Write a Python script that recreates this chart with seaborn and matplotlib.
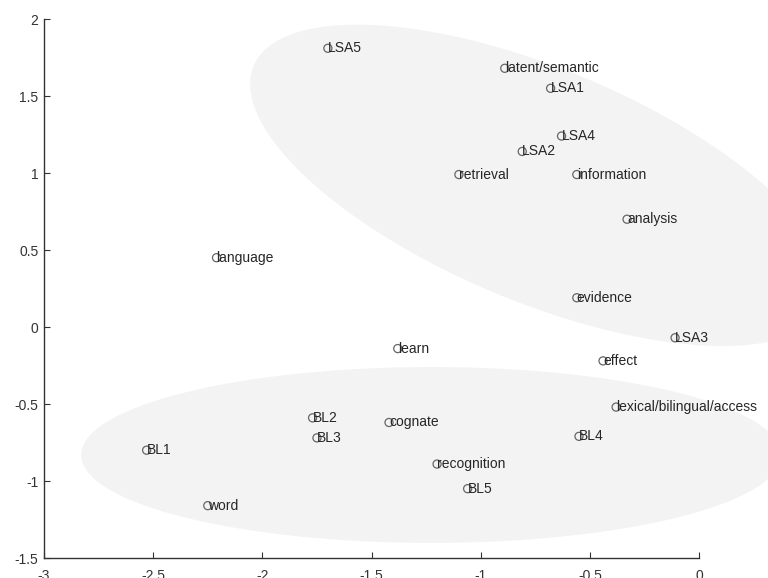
import numpy as np
import pandas as pd
import seaborn as sns
import matplotlib.pyplot as plt

# term / document coordinates
labels = ['LSA5', 'latent/semantic', 'LSA1', 'LSA4', 'LSA2', 'retrieval', 'information',
          'analysis', 'language', 'evidence', 'LSA3', 'learn', 'effect',
          'lexical/bilingual/access', 'BL2', 'cognate', 'BL3', 'BL4', 'BL1',
          'recognition', 'BL5', 'word']
x_vals = [-1.70, -0.89, -0.68, -0.63, -0.81, -1.10, -0.56,
          -0.33, -2.21, -0.56, -0.11, -1.38, -0.44,
          -0.38, -1.77, -1.42, -1.75, -0.55, -2.53,
          -1.20, -1.06, -2.25]
y_vals = [1.81, 1.68, 1.55, 1.24, 1.14, 0.99, 0.99,
          0.70, 0.45, 0.19, -0.07, -0.14, -0.22,
          -0.52, -0.59, -0.62, -0.72, -0.71, -0.80,
          -0.89, -1.05, -1.16]

df = pd.DataFrame({'x': x_vals, 'y': y_vals, 'label': labels})

sns.set_style('ticks')
plt.rcParams['font.family'] = ['Liberation Sans', 'DejaVu Sans']

fig = plt.figure(figsize=(7.68, 5.78), dpi=100)
ax = fig.add_axes([0.0573, 0.0346, 0.853, 0.9325])
ax.set_xlim(-3, 0)
ax.set_ylim(-1.5, 2)


def shade(cx, cy, w, h, k):
    # sheared ellipse in data units: half-width w, half-height h, tilt k
    t = np.linspace(0, 2 * np.pi, 300)
    ex = cx + w * np.cos(t)
    ey = cy + k * w * np.cos(t) + h * np.sin(t)
    ax.fill(ex, ey, color='#f3f3f3', lw=0, zorder=0, clip_on=False)


shade(-0.73, 0.92, 1.326, 0.81, -0.496)
shade(-1.227, -0.831, 1.603, 0.571, 0)

sns.scatterplot(data=df, x='x', y='y', ax=ax, marker='o', s=34,
                facecolor='none', edgecolor='#666666', linewidth=0.9, zorder=3)

for _, row in df.iterrows():
    ax.text(row['x'], row['y'], row['label'], ha='left', va='center',
            fontsize=10, color='#262626', zorder=4)

ax.set_xticks([-3, -2.5, -2, -1.5, -1, -0.5, 0])
ax.set_xticklabels(['-3', '-2.5', '-2', '-1.5', '-1', '-0.5', '0'])
ax.set_yticks([-1.5, -1, -0.5, 0, 0.5, 1, 1.5, 2])
ax.set_yticklabels(['-1.5', '-1', '-0.5', '0', '0.5', '1', '1.5', '2'])
ax.tick_params(direction='in', length=4, width=0.8, colors='#333333',
               labelsize=10, labelcolor='#333333')
ax.tick_params(axis='x', pad=8)
ax.tick_params(axis='y', pad=4)
ax.set_xlabel('')
ax.set_ylabel('')
sns.despine(ax=ax)
for s in ['left', 'bottom']:
    ax.spines[s].set_color('#333333')
    ax.spines[s].set_linewidth(1.0)
ax.set_facecolor('white')

fig.savefig('out.png', dpi=100)
